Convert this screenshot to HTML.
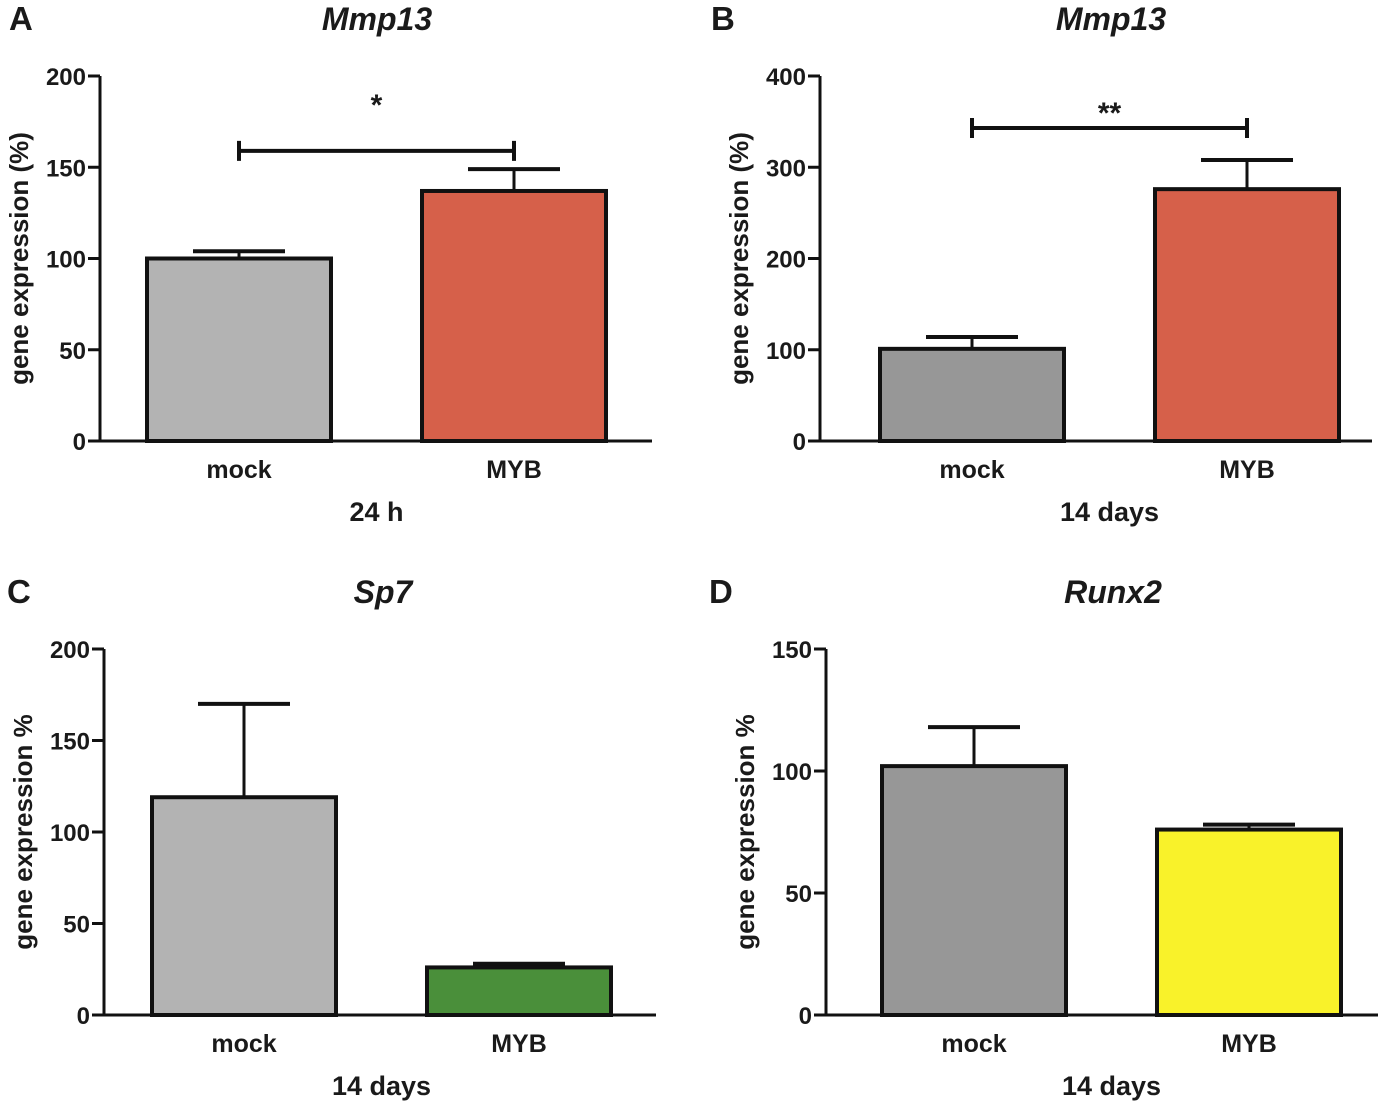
<!DOCTYPE html>
<html><head><meta charset="utf-8"><style>
body{margin:0;background:#fff;}
svg text{font-family:"Liberation Sans",Arial,sans-serif;font-weight:bold;fill:#1a1a1a;}
</style></head><body>
<svg id="fig" width="1393" height="1104" viewBox="0 0 1393 1104" xmlns="http://www.w3.org/2000/svg"></svg>
<script>
const categories = ["mock","MYB"];
const valuesA = [100, 137];
const errorsA = [104, 149];
const valuesB = [101, 276];
const errorsB = [114, 308];
const valuesC = [119, 26];
const errorsC = [170, 28];
const valuesD = [102, 76];
const errorsD = [118, 78];
const ticksA = [0,50,100,150,200];
const ticksB = [0,100,200,300,400];
const ticksC = [0,50,100,150,200];
const ticksD = [0,50,100,150];

const NS="http://www.w3.org/2000/svg";
const svg=document.getElementById('fig');
function mk(tag,attrs,parent,text){
  const e=document.createElementNS(NS,tag);
  for(const k in attrs)e.setAttribute(k,attrs[k]);
  if(text!==undefined)e.textContent=text;
  (parent||svg).appendChild(e);return e;
}
function panel(p){
  const g=mk('g',{});
  
  
  const max=p.ticks[p.ticks.length-1];
  const y=v=>p.y0-(v/max)*(p.y0-p.y1);
  const lt=mk('text',{x:p.lx,y:p.y1-46,'font-size':33},g,p.letter);
  
  
  const tt=mk('text',{x:p.tx,y:p.y1-46,'font-size':32,'font-style':'italic','text-anchor':'middle'},g,p.title);
  
  
  const yl=mk('text',{transform:`translate(${p.ax-72},${(p.y0+p.y1)/2}) rotate(-90)`,'font-size':26,'text-anchor':'middle'},g,p.ylabel);
  
  
  const ya=mk('line',{x1:p.ax,y1:p.y1,x2:p.ax,y2:p.y0,stroke:'#111','stroke-width':3},g);
  
  
  const xa=mk('line',{x1:p.ax,y1:p.y0,x2:p.ax+552,y2:p.y0,stroke:'#111','stroke-width':3},g);
  
  
  p.ticks.forEach(t=>{
    const tl=mk('line',{x1:p.ax-12,y1:y(t),x2:p.ax,y2:y(t),stroke:'#111','stroke-width':3},g);
    
    
    const tx=mk('text',{x:p.ax-14,y:y(t)+9,'font-size':24,'text-anchor':'end'},g,String(t));
    
    
  });
  const bw=184, xs=[p.ax+p.off,p.ax+p.off+275];
  categories.forEach((c,i)=>{
    const x=xs[i], top=y(p.vals[i]), et=y(p.errs[i]), cx=x+bw/2;
    const el=mk('line',{x1:cx,y1:top,x2:cx,y2:et,stroke:'#111','stroke-width':3},g);
    
    
    const ec=mk('line',{x1:cx-46,y1:et,x2:cx+46,y2:et,stroke:'#111','stroke-width':4},g);
    
    
    const r=mk('rect',{x:x,y:top,width:bw,height:p.y0-top,fill:p.colors[i],stroke:'#111','stroke-width':4},g);
    
    
    const lb=mk('text',{x:cx,y:p.y0+37,'font-size':25,'text-anchor':'middle'},g,c);
    
    
  });
  const xt=mk('text',{x:(xs[0]+xs[1]+bw)/2,y:p.y0+80,'font-size':27,'text-anchor':'middle'},g,p.xlabel);
  
  
  if(p.sig){
    const by=y(p.sigV), x1=xs[0]+bw/2, x2=xs[1]+bw/2;
    const b=mk('path',{d:`M${x1},${by-10}V${by+10}M${x1},${by}H${x2}M${x2},${by-10}V${by+10}`,stroke:'#111','stroke-width':4,fill:'none'},g);
    
    
    const s=mk('text',{x:(x1+x2)/2,y:by+p.sigOff,'font-size':30,'text-anchor':'middle'},g,p.sig);
    
    
  }
}
panel({letter:'A',lx:9,tx:377,title:'Mmp13',ax:100,off:47,y0:441,y1:76,ticks:ticksA,vals:valuesA,errs:errorsA,colors:['#b3b3b3','#d6604a'],ylabel:'gene expression (%)',xlabel:'24 h',sig:'*',sigV:159,sigOff:-36});
panel({letter:'B',lx:711,tx:1111,title:'Mmp13',ax:820,off:60,y0:441,y1:76,ticks:ticksB,vals:valuesB,errs:errorsB,colors:['#979797','#d6604a'],ylabel:'gene expression (%)',xlabel:'14 days',sig:'**',sigV:343,sigOff:-5});
panel({letter:'C',lx:7,tx:383,title:'Sp7',ax:104,off:48,y0:1015,y1:649,ticks:ticksC,vals:valuesC,errs:errorsC,colors:['#b3b3b3','#4a8f3a'],ylabel:'gene expression %',xlabel:'14 days'});
panel({letter:'D',lx:709,tx:1113,title:'Runx2',ax:826,off:56,y0:1015,y1:649,ticks:ticksD,vals:valuesD,errs:errorsD,colors:['#979797','#f9f22a'],ylabel:'gene expression %',xlabel:'14 days'});
</script>
</body></html>
